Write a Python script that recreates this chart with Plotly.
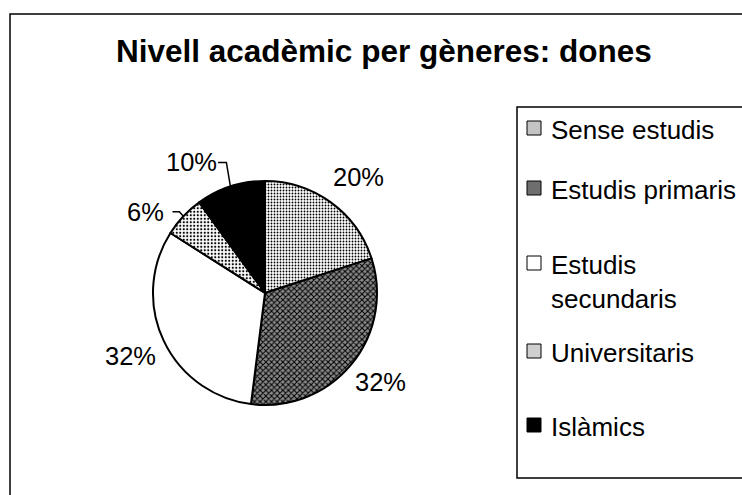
import math
import plotly.graph_objects as go

# ---- data ----
labels = ["Sense estudis", "Estudis primaris", "Estudis secundaris", "Universitaris", "Islàmics"]
values = [20, 32, 32, 6, 10]
legend_text = ["Sense estudis", "Estudis primaris", "Estudis<br>secundaris", "Universitaris", "Islàmics"]
title_text = "Nivell acadèmic per gèneres: dones"

# ---- style ----
W, H = 742, 495
CX, CY, R = 265, 293, 112
FONT = "Arial, 'Liberation Sans', sans-serif"
pat_shape = [".", "x", "", ".", ""]
pat_fg = ["black", "black", "white", "black", "black"]
pat_bg = ["white", "#8a8a8a", "white", "white", "black"]
pat_size = [3, 4, 4, 3.5, 4]
pat_sol = [0.3, 0.45, 0.1, 0.3, 0.1]
swatch_fill = ["#c4c4c4", "#6e6e6e", "white", "#cfcfcf", "black"]
label_r = [1.33, 1.30, 1.33, 1.29, 1.34]
label_shift = [3, -2, 0, -9, -11.5]
leader = [False, False, False, True, True]
legend_y = [128, 188, 263, 351, 425]


def px(x):
    return x / W


def py(y):
    return 1 - y / H


fig = go.Figure()
fig.add_trace(go.Pie(
    labels=labels, values=values, sort=False, direction="clockwise", rotation=0,
    textinfo="none", hoverinfo="label+percent", showlegend=False,
    domain=dict(x=[px(CX - R), px(CX + R)], y=[py(CY + R), py(CY - R)]),
    marker=dict(
        colors=pat_bg,
        line=dict(color="black", width=2),
        pattern=dict(shape=pat_shape, fgcolor=pat_fg, bgcolor=pat_bg,
                     size=pat_size, solidity=pat_sol, fillmode="replace"),
    ),
))

annotations = []
shapes = []
total = sum(values)
cum = 0
for i, v in enumerate(values):
    mid = (cum + v / 2) / total * 360
    cum += v
    a = math.radians(mid + label_shift[i])
    lx = CX + R * label_r[i] * math.sin(a)
    ly = CY - R * label_r[i] * math.cos(a)
    pct = f"{round(v / total * 100)}%"
    annotations.append(dict(x=px(lx), y=py(ly), xref="paper", yref="paper", text=pct,
                            showarrow=False, font=dict(family=FONT, size=25.5, color="black"),
                            xanchor="center", yanchor="middle"))
    if leader[i]:
        am = math.radians(mid)
        ex = CX + R * math.sin(am)
        ey = CY - R * math.cos(am)
        tx = lx + 27
        path = f"M {px(ex)},{py(ey)} L {px(ex - 4)},{py(ly)} L {px(tx)},{py(ly)}"
        shapes.append(dict(type="path", xref="paper", yref="paper", path=path,
                           line=dict(color="black", width=1.5)))

# outer frame and legend box
shapes.append(dict(type="rect", xref="paper", yref="paper", x0=px(10), y0=py(500), x1=px(746), y1=py(14),
                   line=dict(color="black", width=1.5), fillcolor="rgba(0,0,0,0)", layer="below"))
shapes.append(dict(type="rect", xref="paper", yref="paper", x0=px(517), y0=py(478), x1=px(746), y1=py(107),
                   line=dict(color="black", width=1.5), fillcolor="rgba(0,0,0,0)"))

for i, t in enumerate(legend_text):
    yc = legend_y[i]
    shapes.append(dict(type="rect", xref="paper", yref="paper",
                       x0=px(527), x1=px(541), y0=py(yc + 7), y1=py(yc - 7),
                       line=dict(color="black", width=1), fillcolor=swatch_fill[i]))
    annotations.append(dict(x=px(549), y=py(yc - 15), xref="paper", yref="paper", text=t,
                            showarrow=False, align="left",
                            font=dict(family=FONT, size=26, color="black"),
                            xanchor="left", yanchor="top"))

annotations.append(dict(x=px(384), y=py(51), xref="paper", yref="paper", text=f"<b>{title_text}</b>",
                        showarrow=False, font=dict(family=FONT, size=31.5, color="black"),
                        xanchor="center", yanchor="middle"))

fig.update_layout(width=W, height=H, margin=dict(l=0, r=0, t=0, b=0),
                  paper_bgcolor="white", plot_bgcolor="white",
                  annotations=annotations, shapes=shapes, showlegend=False)

fig.write_html("out.html", config={"displayModeBar": False},
               post_script="document.body.style.margin='0px';")
